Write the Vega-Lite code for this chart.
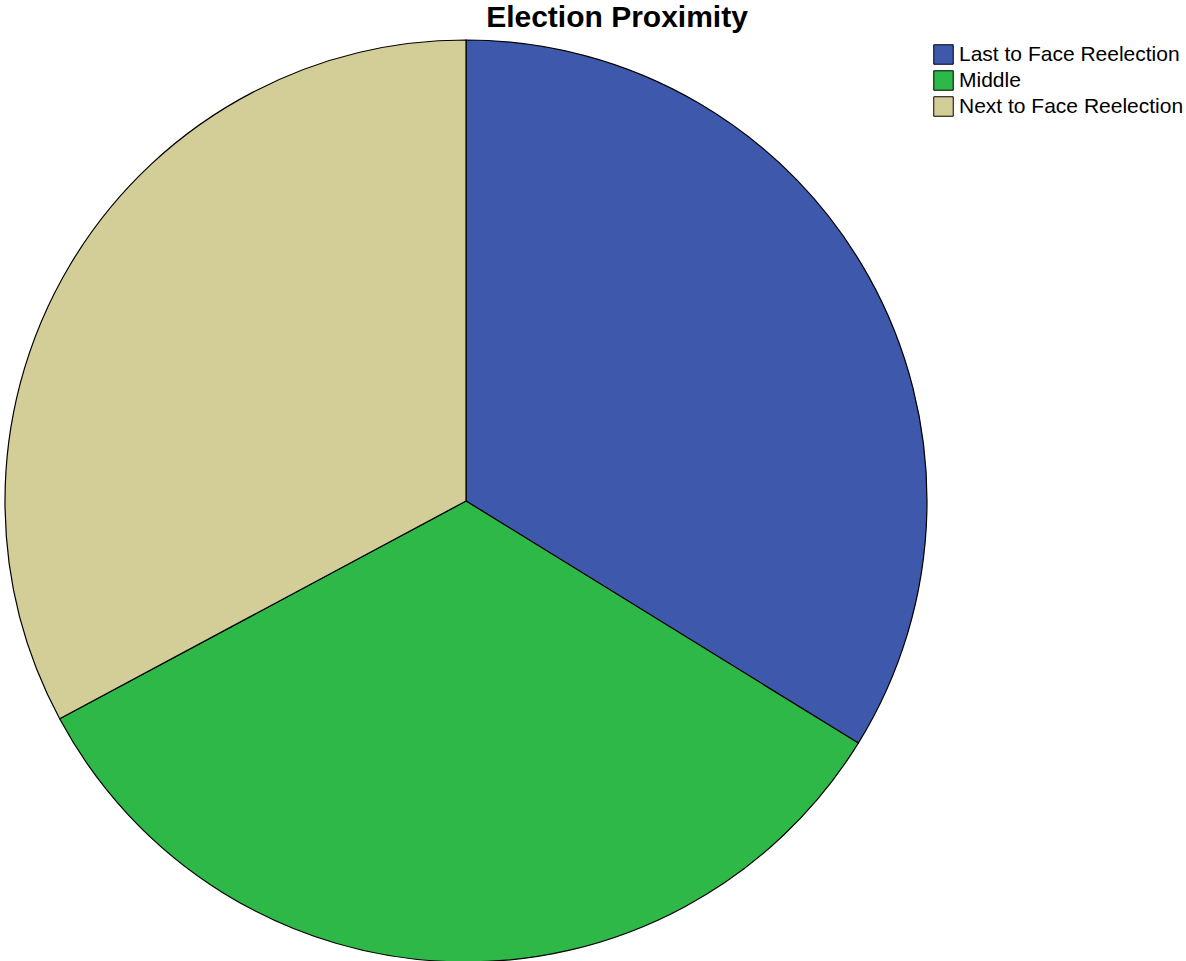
{
  "$schema": "https://vega.github.io/schema/vega-lite/v6.json",
  "autosize": {"type": "none"},
  "width": 922,
  "height": 922,
  "padding": {"left": 5, "top": 40, "right": 259, "bottom": 0},
  "background": "white",
  "title": {
    "text": "Election Proximity",
    "anchor": "middle",
    "dx": 151,
    "dy": 31,
    "offset": 12,
    "baseline": "alphabetic",
    "font": "Liberation Sans",
    "fontSize": 30,
    "fontWeight": "bold",
    "color": "black"
  },
  "data": {
    "values": [
      {"group": "Last to Face Reelection", "share": 33.8},
      {"group": "Middle", "share": 33.37},
      {"group": "Next to Face Reelection", "share": 32.83}
    ]
  },
  "mark": {"type": "arc", "stroke": "black", "strokeWidth": 1.2},
  "encoding": {
    "theta": {"field": "share", "type": "quantitative", "stack": true},
    "order": {"field": "group", "type": "nominal"},
    "color": {
      "field": "group",
      "type": "nominal",
      "scale": {
        "domain": ["Last to Face Reelection", "Middle", "Next to Face Reelection"],
        "range": ["#3E58AC", "#2EB848", "#D3CE97"]
      },
      "legend": {
        "title": null,
        "orient": "right",
        "offset": 2,
        "padding": 4,
        "symbolType": "square",
        "symbolSize": 380,
        "symbolStrokeColor": "black",
        "symbolStrokeWidth": 1,
        "symbolOpacity": 1,
        "labelFont": "Liberation Sans",
        "labelFontSize": 21,
        "labelColor": "black",
        "labelOffset": 5,
        "labelLimit": 300,
        "rowPadding": 1
      }
    }
  }
}
